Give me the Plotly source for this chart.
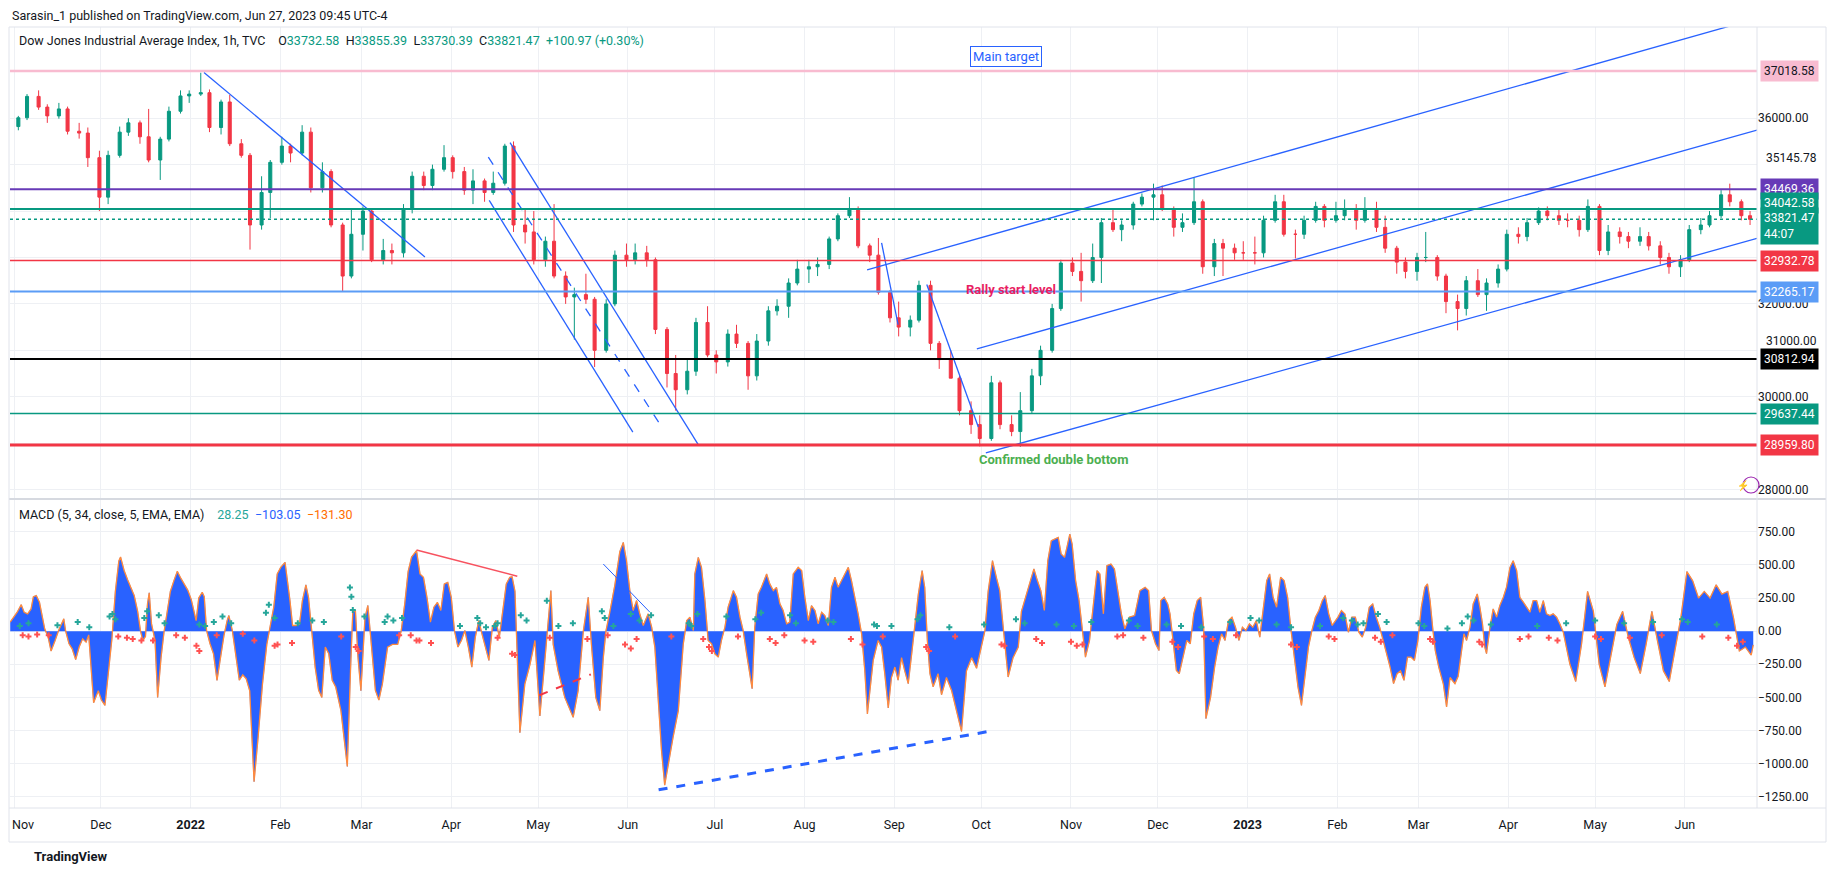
import pandas as pd
import plotly.graph_objects as go
from plotly.subplots import make_subplots

BASE = pd.Timestamp("2021-11-01")

# ---------------- price bars (two bars per week) ----------------
bar_open = [35820,36010,36470,36240,36050,36200,35720,35680,
            35150,34300,35200,35700,35900,35600,35100,35550,
            36150,36480,36520,36550,35800,36350,35450,35200,
            33700,34400,35050,35400,35250,35700,34500,34850,
            33700,32600,33500,34000,32950,33150,33100,34050,
            34750,34550,34900,35150,34850,34450,34650,34400,
            34600,35400,33700,33550,32950,33350,32600,32150,
            32200,32100,31000,32000,33050,32950,33100,32950,
            31450,30500,30150,30550,31600,30900,30750,31350,
            31150,30450,31200,31850,31950,32450,32750,32800,
            32850,33400,33900,34050,33250,33050,32250,31700,
            31500,31650,32400,31150,30800,30400,29700,29400,
            29100,30300,29400,29250,29700,30450,31000,31900,
            32880,32700,32500,33000,33750,33600,33700,34150,
            34300,34350,34050,33650,33750,34200,32800,33300,
            33200,33100,33100,33100,33800,34200,33500,33500,
            33800,34100,33800,33900,34050,33800,34050,33650,
            33200,32900,32700,33000,33000,32600,32050,31900,
            32500,32200,32450,32750,33500,33450,33750,34000,
            33900,33800,33800,33600,34100,33150,33550,33450,
            33350,33450,33250,33000,32800,32950,33600,33700,
            33900,34350,34200,33900]
bar_high = [36050,36520,36600,36300,36330,36250,35900,35800,
            35300,35300,35820,36000,35950,36200,35600,36250,
            36600,36600,36980,36620,36400,36500,35550,35250,
            34750,35100,35600,35450,35850,35800,35050,34900,
            33750,34050,34100,34050,33400,33300,34150,34850,
            34850,35000,35420,35200,34950,34900,34700,34850,
            35450,35500,34050,34000,33450,34150,32700,32350,
            32650,32150,32100,33150,33300,33300,33250,33000,
            31500,30900,30800,31700,31950,31000,31450,31550,
            31200,31350,31950,32100,32550,32950,32950,33000,
            33450,33950,34300,34100,33300,33420,32300,32050,
            31750,32500,32500,31200,31000,30450,29900,29600,
            30450,30350,29600,30100,30600,31100,32000,32950,
            33000,33100,33300,33850,34050,33800,34200,34380,
            34590,34550,34100,33950,34712,34250,33400,33400,
            33300,33350,33450,33900,34350,34350,33600,33900,
            34200,34150,34200,34250,34150,34300,34200,33900,
            33250,33000,33100,33550,33050,32650,32200,32600,
            32750,32550,32850,33600,33650,33850,34080,34100,
            34050,33950,33900,34250,34150,33700,33650,33550,
            33650,33550,33350,33100,33050,33700,33850,34000,
            34450,34590,34250,34000]
bar_low = [35740,35960,36180,35900,35990,35650,35560,34950,
           34000,34150,35150,35620,35450,35050,34670,35500,
           36100,36330,36480,35700,35650,35400,35150,33170,
           33600,33850,35000,35050,35200,34400,34400,33650,
           32272,32550,33150,32900,32850,32850,33000,33950,
           34450,34450,34850,34700,34350,34150,34200,34350,
           34550,33550,33300,32850,32800,32550,32000,31230,
           32000,30640,30950,31950,32800,32850,32800,31350,
           30200,29700,30050,30450,30850,30500,30650,31050,
           30150,30350,31100,31750,31700,32400,32450,32600,
           32750,33350,33850,33200,32900,32200,31600,31300,
           31300,31600,31000,30600,30400,29600,29200,28930,
           29050,29300,29150,28920,29650,30250,30950,31850,
           32600,32050,32450,32450,33550,33350,33600,34100,
           33800,34000,33450,33550,33700,32650,32600,32600,
           32950,32950,32850,33000,33750,33450,32980,33400,
           33750,33650,33750,33800,33600,33750,33550,33100,
           32650,32550,32500,32900,32500,31800,31430,31750,
           32150,31850,32350,32700,33300,33350,33700,33800,
           33700,33650,33450,33550,33050,33050,33300,33200,
           33250,33150,32850,32650,32580,32900,33500,33650,
           33850,34100,33800,33700]
bar_close = [36010,36470,36240,36050,36200,35720,35680,35150,
             34300,35200,35700,35900,35600,35100,35550,36150,
             36480,36520,36550,35800,36350,35450,35200,33700,
             34400,35050,35400,35250,35700,34500,34850,33700,
             32600,33500,34000,32950,33150,33100,34050,34750,
             34550,34900,35150,34850,34450,34650,34400,34600,
             35400,33700,33550,32950,33350,32600,32150,32200,
             32100,31000,32000,33050,32950,33100,32950,31450,
             30500,30150,30550,31600,30900,30750,31350,31150,
             30450,31200,31850,31950,32450,32750,32800,32850,
             33400,33900,34050,33250,33050,32250,31700,31500,
             31650,32400,31150,30800,30400,29700,29400,29100,
             30300,29400,29250,29700,30450,31000,31900,32880,
             32700,32500,33000,33750,33600,33700,34150,34300,
             34350,34050,33650,33750,34200,32800,33300,33200,
             33100,33100,33100,33800,34200,33500,33500,33800,
             34100,33800,33900,34050,33800,34050,33650,33200,
             32900,32700,33000,33000,32600,32050,31900,32500,
             32200,32450,32750,33500,33450,33750,34000,33900,
             33800,33800,33600,34100,33150,33550,33450,33350,
             33450,33250,33000,32800,32950,33600,33700,33900,
             34350,34200,33900,33821.47]
bar_tue = pd.date_range("2021-11-02 12:00", periods=86, freq="7D")
bar_fri = pd.date_range("2021-11-05 12:00", periods=86, freq="7D")
bar_time = [t for pair in zip(bar_tue, bar_fri) for t in pair]

# ---------------- horizontal levels ----------------
level_price = [37018.58, 34469.36, 34042.58, 33821.47, 32932.78, 32265.17, 30812.94, 29637.44, 28959.80]
level_text = ["37018.58", "34469.36", "34042.58", "33821.47<br>44:07", "32932.78", "32265.17", "30812.94", "29637.44", "28959.80"]
scale_extra_price = 35145.78

# ---------------- trend lines (days since 2021-11-01, price) ----------------
tl_jan_day, tl_jan_px = [65.6, 141.9], [36983, 33012]
tl_chup_day, tl_chup_px = [171.3, 236.4], [35475, 28959]
tl_chlo_day, tl_chlo_px = [164.1, 213.7], [34230, 29236]
tl_chmid_day, tl_chmid_px = [163.8, 223.8], [35162, 29336]
tl_aug_day, tl_aug_px = [299.6, 305.3], [33313, 31556]
tl_sep_day, tl_sep_px = [315.2, 333.0], [32416, 29350]
tl_top_day, tl_top_px = [294.6, 601.9], [32733, 38151]
tl_mid_day, tl_mid_px = [332.5, 601.9], [31030, 35744]
tl_low_day, tl_low_px = [335.6, 601.9], [28790, 33410]

# MACD pane drawings
md_red_day, md_red_val = [139.0, 173.8], [613, 415]
md_reddash_day, md_reddash_val = [181.4, 199.2], [-484, -326]
md_blue_day, md_blue_val = [203.5, 219.6], [507, 143]
md_bluedash_day, md_bluedash_val = [222.6, 336.6], [-1198, -757]

# ---------------- MACD (day, value) ----------------
macd_seg1 = [(-1.3,68),(-0.1,106),(1.1,143),(2.5,200),(3.5,143),(4.7,131),(5.9,168),(6.7,260),(7.7,269),(8.8,218),
    (10.0,68),(10.6,18),(11.8,-45),(12.8,-150),(14.2,-70),(15.4,5),(17.2,93),(17.8,5),(19.0,-95),(20.1,-133),
    (21.3,-215),(22.5,-120),(23.7,-58),(24.9,-83),(25.8,-28),(26.7,-321),(27.5,-540),(29.1,-450),(30.2,-520),(31.4,-560),
    (32.6,-300),(33.8,-60),(35.0,300),(36.2,530),(36.8,560),(38.0,460),(39.2,390),(40.4,330),(41.5,270),(42.7,150),
    (43.7,0),(44.5,-70),(45.4,-40),(46.1,206),(46.7,290),(47.5,55),(48.7,-70),(49.6,-500),(50.8,-196),(51.8,-8),
    (52.8,150),(54.0,300),(55.2,380),(56.4,452),(57.6,400),(58.8,350),(60.0,310),(61.2,240),(62.4,130),(62.9,80),
    (63.8,250),(65.0,294),(65.7,260),(66.5,5),(67.7,-95),(68.9,-171),(70.1,-371),(71.3,-196),(72.5,-33),(73.6,80),
    (74.2,118),(75.4,5),(76.6,-200),(77.8,-370),(79.0,-330),(80.2,-360),(81.4,-450),(82.9,-1136),(84.3,-800),(85.8,-400),
    (87.3,-100),(88.5,30),(89.7,181),(90.9,432),(92.1,482),(93.6,520),(94.5,382),(95.3,231),(96.2,43),(97.4,43),
    (98.6,55),(99.6,231),(100.8,350),(101.7,256),(102.8,5),(104.0,-271),(105.2,-447),(106.3,-500),(107.5,-120),(108.7,-171),
    (109.9,-371),(111.1,-422),(112.9,-600),(115.1,-1022),(116.2,-300),(117.0,150),(117.9,156),(118.8,-200),(119.8,-450),(121.2,100),
    (122.2,194),(123.4,-100),(124.8,-447),(126.0,-520),(127.2,-400),(129.0,-120),(130.7,-100),(132.5,-100),(133.7,0),(134.9,200),
    (136.1,450),(137.3,560),(138.5,600),(139.0,608),(140.2,432),(141.4,407),(142.6,256),(143.8,68),(145.0,181),(146.2,218),
    (147.4,156),(148.6,357),(149.8,369),(151.0,256),(152.1,5),(153.3,-120),(154.5,-70),(155.7,5),(156.9,-120),(158.1,-271),
    (159.3,-45),(160.5,80),(161.6,-20),(162.8,-120),(164.0,-221),(165.2,30),(166.4,80),(167.6,-45),(168.8,156),(170.0,357),
    (171.2,407),(172.0,410),(173.0,300),(173.6,-120),(174.2,-500),(174.7,-766)]
macd_seg2 = [(176.4,-400),(178.2,-250),(179.9,-70),(181.6,-640),(183.0,-300),(184.5,100),(185.4,306),(186.2,-100),(187.9,-300),(190.2,-500),
    (193.1,-650),(194.8,-450),(196.6,0),(198.3,256),(199.4,-100),(200.9,-500),(202.3,-600),(203.5,-200),(204.4,0),(205.8,150),
    (207.5,350),(209.2,600),(210.4,670),(211.5,532),(212.7,300),(213.8,156),(215.0,231),(216.1,131),(217.3,43),(219.0,131),
    (220.2,30),(221.3,-120),(222.5,-500),(223.6,-900),(224.7,-1162),(225.9,-1000),(227.6,-800),(229.4,-600),(231.1,-100),(232.3,80),
    (233.4,106),(234.6,5),(235.1,432),(236.3,557),(237.4,482),(238.6,231),(239.7,-70),(240.9,-95),(242.0,-171),(243.2,-196),
    (244.3,-70),(245.5,30),(246.6,181),(248.4,306),(249.5,256),(250.7,106),(251.8,5),(253.0,-171),(254.1,-321),(254.9,-434),
    (255.8,30),(257.0,281),(258.1,331),(259.9,432),(261.0,357),(262.2,306),(263.3,331),(264.5,206),(265.6,156),(266.8,55),
    (267.9,68),(269.1,432),(270.8,482),(272.0,457),(273.1,256),(274.3,80),(275.4,193),(276.6,156),(277.7,55),(278.9,143),
    (280.0,118),(281.2,43),(282.3,331),(283.5,407),(284.6,331),(285.8,382),(286.9,432),(288.1,482),(289.2,382),(290.4,256),
    (291.5,131),(292.7,-20),(293.8,-296),(294.7,-625),(296.7,-221),(298.4,-70),(299.6,-120),(300.7,-321),(301.9,-580),(303.0,-350),
    (304.2,-271),(305.3,-370),(306.5,-200),(307.6,-300),(308.8,-396),(310.0,-170),(311.1,30),(312.3,281),(313.6,457),(314.5,330),
    (315.4,-70),(316.3,-321),(317.4,-420),(319.1,-321),(320.3,-480),(322.0,-350),(323.8,-450),(325.5,-600),(327.2,-757),(328.9,-300),
    (330.7,-200),(332.4,-280),(334.1,-100),(335.3,5),(336.4,300),(337.9,532),(339.3,400),(340.4,306),(341.6,30),(343.3,-346),
    (345.0,-200),(346.8,-120),(347.9,150)]
macd_seg3 = [(351.0,382),(352.2,470),(353.4,382),(354.6,306),(355.8,156),(357.0,532),(358.2,683),(359.4,696),(360.6,708),(361.6,583),
    (362.8,557),(363.6,633),(364.6,733),(365.4,658),(366.6,382),(367.8,231),(368.8,30),(370.0,-196),(371.4,-70),(372.6,181),
    (374.0,457),(375.0,432),(376.2,131),(377.4,495),(378.8,507),(380.0,470),(381.2,306),(382.4,131),(383.6,18),(385.2,106),
    (387.0,118),(388.8,306),(390.6,331),(391.8,306),(392.8,5),(394.2,-95),(395.4,-146),(396.0,231),(397.2,256),(398.4,206),
    (399.2,131),(400.2,-70),(401.4,-296),(402.4,-321),(403.8,-196),(405.0,-70),(406.2,-95),(407.4,131),(408.6,231),(409.8,256),
    (410.8,30),(411.6,-660),(413.2,-500),(414.6,-271),(415.8,-120),(417.0,-20),(418.2,-70),(419.4,80),(420.6,106),(421.8,30),
    (423.0,-70),(424.2,30),(425.4,5),(426.6,55),(427.8,30),(429.0,80),(430.2,-45),(431.4,156),(432.6,382),(433.6,432),
    (434.8,256),(436.0,181),(437.4,407),(438.6,382),(439.8,256),(441.0,5),(442.2,-196),(443.4,-422),(444.6,-560),(445.8,-321),
    (447.0,-120),(448.2,5),(449.4,106),(450.6,156),(451.8,231),(452.8,269),(454.0,131),(455.2,43),(457.2,106),(458.4,156),
    (459.6,130),(460.8,-8),(462.0,106),(463.2,106),(464.4,-8),(465.6,-45),(466.8,30),(468.0,181),(469.2,206),(470.4,106),
    (471.6,30),(472.8,-70),(474.0,-171),(475.2,-271),(476.4,-396),(477.6,-321),(478.8,-300),(480.0,-371),(481.2,-196),(482.4,-196),
    (483.6,-221),(484.8,-70),(486.0,181),(487.2,331),(488.1,357),(489.0,231),(490.0,5),(490.8,-146),(492.0,-271)]
macd_seg4 = [(493.6,-400),(494.7,-572),(495.9,-350),(497.6,-396),(498.7,-340),(499.9,-145),(500.7,-20),(501.6,-70),(502.8,30),(503.9,206),
    (505.3,281),(506.2,181),(507.1,56),(507.9,-120),(508.5,-170),(509.7,30),(510.8,168),(512.0,106),(513.1,194),(514.3,256),
    (515.4,332),(516.6,482),(517.7,532),(518.9,457),(520.0,256),(521.2,219),(522.3,181),(523.5,143),(524.6,231),(525.8,231),
    (526.9,143),(528.1,231),(529.2,131),(530.4,118),(531.5,131),(532.7,106),(533.8,56),(535.0,-7),(537.3,-250),(539.3,-380),
    (541.3,-100),(543.4,300),(545.4,150),(547.4,-250),(549.4,-420),(551.4,-200),(553.5,50),(555.5,150),(557.5,-50),(559.5,-200),
    (561.6,-320),(563.6,-100),(565.6,150),(567.6,-80),(569.6,-300),(571.6,-380),(573.6,-150),(575.6,100),(577.7,450),(579.7,380),
    (581.7,250),(583.7,300),(585.7,250),(587.8,350),(589.8,280),(591.8,300),(593.8,100),(595.8,-150),(597.9,-120),(599.9,-180),
    (600.6,-103)]

hist_up = [(2,40),(5,60),(15,45),(22,70),(26,30),(33,110),(34,130),(35,90),(45,100),(46,150),(50,120),(52,60),(64,50),(66,40),
    (69,70),(72,110),(75,60),(87,140),(88,200),(90,100),(98,60),(103,80),(107,70),(116,330),(116.5,260),(117,160),(121,110),
    (128,70),(129,110),(131,80),(134,100),(154,40),(160,100),(161,60),(163,30),(166,40),(167,60),(175,120),(177,80),(184,230),
    (188,40),(193,60),(203,150),(204,100),(207,40),(213,130),(216,80),(220,120),(233,60),(234,40),(236,130),(246,110),(256,90),
    (258,140),(268,120),(270,60),(281,80),(283,70),(297,50),(298,40),(303,40),(312,90),(313,120),(323,30),(335,50),(346,90),
    (349,60),(360,50),(366,40),(372,70),(385,80),(388,40),(398,50),(403,40),(410,30),(420,70),(427,100),(430,80),(436,50),
    (441,30),(451,40),(459,100),(462,80),(464,50),(466,60),(471,130),(474,70),(485,60),(487,40),(495,20),(500,60),(502,110),
    (504,80),(510,50),(526,40),(536,60),(546,80),(556,60),(566,70),(576,90),(578,70),(588,50)]
hist_dn = [(3,-30),(5,-40),(8,-25),(12,-30),(36,-40),(39,-50),(41,-60),(44,-70),(48,-70),(56,-30),(59,-50),(63,-110),(64,-150),
    (70,-30),(79,-20),(83,-70),(90,-110),(91,-100),(96,-90),(113,-40),(118,-120),(119,-150),(133,-30),(137,-30),(139,-70),
    (140,-70),(144,-90),(167,-50),(172,-170),(173,-180),(185,-50),(198,-60),(205,-30),(211,-100),(213,-130),(215,-60),(227,-40),
    (238,-60),(240,-120),(241,-150),(250,-40),(261,-60),(263,-90),(266,-30),(273,-70),(276,-80),(289,-60),(293,-100),(300,-40),
    (315,-120),(316,-150),(325,-40),(341,-100),(342,-110),(353,-60),(355,-90),(365,-80),(367,-110),(369,-100),(381,-40),(383,-30),
    (390,-50),(400,-80),(402,-120),(411,-40),(414,-60),(422,-30),(441,-100),(443,-120),(454,-40),(456,-60),(470,-50),(472,-80),
    (476,-30),(489,-60),(490,-80),(506,-80),(507,-100),(520,-60),(523,-40),(530,-50),(533,-70),(546,-40),(548,-60),(558,-50),
    (569,-30),(583,-40),(592,-50),(595,-110),(597,-80)]

month_ticks = pd.date_range("2021-11-01", "2023-06-01", freq="MS")
month_text = ["", "Dec", "<b>2022</b>", "Feb", "Mar", "Apr", "May", "Jun", "Jul", "Aug", "Sep", "Oct",
              "Nov", "Dec", "<b>2023</b>", "Feb", "Mar", "Apr", "May", "Jun"]
first_month_label = "Nov"
price_ticks = [28000, 29000, 30000, 31000, 32000, 33000, 34000, 35000, 36000, 37000]
price_tick_text = ["28000.00", "", "30000.00", "", "32000.00", "", "", "", "36000.00", ""]
price_tick_31000 = 31000
macd_ticks = [-1250, -1000, -750, -500, -250, 0, 250, 500, 750]
macd_tick_text = ["\u22121250.00", "\u22121000.00", "\u2212750.00", "\u2212500.00", "\u2212250.00",
                  "0.00", "250.00", "500.00", "750.00"]

# ---------------- helpers (layout only) ----------------
def to_time(days):
    return [BASE + pd.Timedelta(days=float(d)) for d in days]

# the page body has an 8px margin, so the figure is drawn 8px in from the top-left
OFF = 8
W, H = 1835 - 2 * OFF, 874 - 2 * OFF
PL, PR, PT, PB = 10, 1757, 27, 808          # plot area in screenshot pixels
def px(x):
    return (x - PL) / (PR - PL)
def py(y):
    return (PB - y) / (PB - PT)

UP, DN = "#089981", "#f23645"
BLUE = "#2962ff"
GRID = "#eef0f4"
TXT = "#131722"
FONT = "Roboto, Open Sans, sans-serif"

fig = make_subplots(rows=2, cols=1, shared_xaxes=True, vertical_spacing=0)

fig.add_trace(go.Candlestick(
    x=bar_time, open=bar_open, high=bar_high, low=bar_low, close=bar_close,
    increasing=dict(line=dict(color=UP, width=1), fillcolor=UP),
    decreasing=dict(line=dict(color=DN, width=1), fillcolor=DN),
    whiskerwidth=0, hoverinfo="skip"), row=1, col=1)

def tline(days, vals, row, color=BLUE, width=1.3, dash="solid"):
    fig.add_trace(go.Scatter(x=to_time(days), y=vals, mode="lines",
                             line=dict(color=color, width=width, dash=dash),
                             hoverinfo="skip"), row=row, col=1)

tline(tl_jan_day, tl_jan_px, 1)
tline(tl_chup_day, tl_chup_px, 1)
tline(tl_chlo_day, tl_chlo_px, 1)
tline(tl_chmid_day, tl_chmid_px, 1, dash="dash")
tline(tl_aug_day, tl_aug_px, 1)
tline(tl_sep_day, tl_sep_px, 1)
tline(tl_top_day, tl_top_px, 1)
tline(tl_mid_day, tl_mid_px, 1)
tline(tl_low_day, tl_low_px, 1)

# MACD
macd_all = macd_seg1 + macd_seg2 + macd_seg3 + macd_seg4
macd_day = [p[0] for p in macd_all]
macd_val = [p[1] for p in macd_all]
fig.add_trace(go.Scatter(x=to_time(macd_day), y=macd_val, mode="lines", fill="tozeroy",
                         fillcolor=BLUE, line=dict(color=BLUE, width=0.5), hoverinfo="skip"), row=2, col=1)
fig.add_trace(go.Scatter(x=to_time(macd_day), y=macd_val, mode="lines",
                         line=dict(color="#ff8a3d", width=1.3), hoverinfo="skip"), row=2, col=1)
fig.add_trace(go.Scatter(x=to_time([p[0] for p in hist_up]), y=[p[1] for p in hist_up], mode="markers",
                         marker=dict(symbol="cross", size=5, color="#26a69a"), hoverinfo="skip"), row=2, col=1)
fig.add_trace(go.Scatter(x=to_time([p[0] for p in hist_dn]), y=[p[1] for p in hist_dn], mode="markers",
                         marker=dict(symbol="cross", size=5, color="#ff5252"), hoverinfo="skip"), row=2, col=1)
tline(md_red_day, md_red_val, 2, color="#f7525f", width=1.5)
tline(md_reddash_day, md_reddash_val, 2, color="#f23645", width=2, dash="dash")
tline(md_blue_day, md_blue_val, 2, color=BLUE, width=1)
tline(md_bluedash_day, md_bluedash_val, 2, color=BLUE, width=3, dash="dash")

# horizontal levels
level_color = ["#f8bbd0", "#673ab7", UP, UP, DN, "#5b9cf6", "#000000", UP, DN]
level_width = [2.5, 2, 2, 1.5, 1.5, 2, 2, 1.5, 3]
level_dash = ["solid", "solid", "solid", "dot", "solid", "solid", "solid", "solid", "solid"]
label_bg = ["#f8bbd0", "#673ab7", UP, UP, DN, "#5b9cf6", "#000000", UP, DN]
label_fg = [TXT, "white", "white", "white", "white", "white", "white", "white", "white"]
label_shift = [0, 0, 6, -7, 0, 0, 0, 0, 0]

shapes = []
for v, c, w, d in zip(level_price, level_color, level_width, level_dash):
    shapes.append(dict(type="line", xref="x domain", x0=0, x1=1, yref="y", y0=v, y1=v,
                       line=dict(color=c, width=w, dash=d), layer="above"))
shapes.append(dict(type="line", xref="paper", yref="paper", x0=px(9), x1=px(1826), y0=py(499), y1=py(499),
                   line=dict(color="#d6d9e0", width=2)))
shapes.append(dict(type="line", xref="paper", yref="paper", x0=1, x1=1, y0=0, y1=1,
                   line=dict(color="#e0e3eb", width=1)))
shapes.append(dict(type="line", xref="paper", yref="paper", x0=px(9), x1=px(1826), y0=0, y1=0,
                   line=dict(color="#e0e3eb", width=1)))
shapes.append(dict(type="rect", xref="paper", yref="paper", x0=px(9), x1=px(1826), y0=py(27), y1=py(842),
                   line=dict(color="#e0e3eb", width=1), fillcolor="rgba(0,0,0,0)"))
shapes.append(dict(type="circle", xref="paper", yref="paper", x0=px(1743), x1=px(1759), y0=py(477), y1=py(493),
                   line=dict(color="#9c27b0", width=1.2)))

annotations = []
for v, t, bg, fg, sh in zip(level_price, level_text, label_bg, label_fg, label_shift):
    annotations.append(dict(xref="paper", x=px(1760), xanchor="left", yref="y", y=v, yshift=sh,
                            text=t, showarrow=False, bgcolor=bg, borderpad=3,
                            font=dict(family=FONT, size=12, color=fg), align="left"))
annotations.append(dict(xref="paper", x=px(1764), xanchor="left", yref="y", y=scale_extra_price,
                        text=f"{scale_extra_price:.2f}", showarrow=False,
                        font=dict(family=FONT, size=12, color=TXT)))
annotations.append(dict(xref="paper", x=px(1764), xanchor="left", yref="y", y=price_tick_31000, yshift=9,
                        text=f"{price_tick_31000:.2f}", showarrow=False,
                        font=dict(family=FONT, size=12, color=TXT)))
annotations += [
    dict(xref="paper", yref="paper", x=px(10), y=py(15), xanchor="left", yanchor="middle", showarrow=False,
         text="Sarasin_1 published on TradingView.com, Jun 27, 2023 09:45 UTC-4",
         font=dict(family=FONT, size=12.5, color=TXT)),
    dict(xref="paper", yref="paper", x=px(17), y=py(41), xanchor="left", yanchor="middle", showarrow=False,
         text=("Dow Jones Industrial Average Index, 1h, TVC\u2003O<span style='color:#089981'>33732.58</span>"
               "\u2002H<span style='color:#089981'>33855.39</span>\u2002L<span style='color:#089981'>33730.39</span>"
               "\u2002C<span style='color:#089981'>33821.47</span>\u2002<span style='color:#089981'>+100.97 (+0.30%)</span>"),
         font=dict(family=FONT, size=12.5, color=TXT)),
    dict(xref="paper", yref="paper", x=px(17), y=py(515), xanchor="left", yanchor="middle", showarrow=False,
         text=("MACD (5, 34, close, 5, EMA, EMA)\u2003<span style='color:#26a69a'>28.25</span>"
               "\u2002<span style='color:#2962ff'>\u2212103.05</span>\u2002<span style='color:#ff6d00'>\u2212131.30</span>"),
         font=dict(family=FONT, size=12.5, color=TXT)),
    dict(xref="x", yref="y", x=BASE + pd.Timedelta(days=342.4), y=37336, showarrow=False,
         text="Main target", bgcolor="white", bordercolor=BLUE, borderwidth=1, borderpad=2,
         font=dict(family=FONT, size=13, color=BLUE)),
    dict(xref="x", yref="y", x=BASE + pd.Timedelta(days=328.0), y=32305, xanchor="left", showarrow=False,
         text="<b>Rally start level</b>", font=dict(family=FONT, size=13, color="#e91e63")),
    dict(xref="x", yref="y", x=BASE + pd.Timedelta(days=332.5), y=28657, xanchor="left", showarrow=False,
         text="<b>Confirmed double bottom</b>", font=dict(family=FONT, size=13, color="#4caf50")),
    dict(xref="paper", yref="paper", x=px(1751), y=py(485), showarrow=False, text="\u26a1",
         font=dict(size=10, color="#9c27b0")),
    dict(xref="paper", yref="paper", x=px(10), y=py(824), xanchor="left", yanchor="middle", showarrow=False,
         text=first_month_label, font=dict(family=FONT, size=12.5, color=TXT)),
    dict(xref="paper", yref="paper", x=px(32), y=py(856), xanchor="left", yanchor="middle", showarrow=False,
         text="<b>TradingView</b>", font=dict(family=FONT, size=13, color=TXT)),
]

x_range = [BASE - pd.Timedelta(days=1.38), BASE + pd.Timedelta(days=601.9)]
fig.update_xaxes(range=x_range, tickvals=month_ticks, ticktext=month_text, showgrid=True, gridcolor=GRID,
                 gridwidth=1, zeroline=False, showline=False, ticks="", rangeslider_visible=False,
                 ticklabelstandoff=7, tickfont=dict(family=FONT, size=12.5, color=TXT))
fig.update_xaxes(showticklabels=False, row=1, col=1)

fig.update_layout(
    width=W, height=H,
    margin=dict(l=PL - OFF, r=W - (PR - OFF), t=PT - OFF, b=H - (PB - OFF)),
    paper_bgcolor="white", plot_bgcolor="white", showlegend=False, hovermode=False,
    boxgap=0.5,
    font=dict(family=FONT, size=12, color=TXT),
    yaxis=dict(domain=[py(499) + 0.001, 1], range=[27814, 37965], side="right", tickvals=price_ticks,
               ticktext=price_tick_text, showgrid=True, gridcolor=GRID, zeroline=False, ticks="",
               tickfont=dict(family=FONT, size=12, color=TXT)),
    yaxis2=dict(domain=[0, py(499) - 0.001], range=[-1335, 992], side="right", tickvals=macd_ticks,
                ticktext=macd_tick_text, showgrid=True, gridcolor=GRID, zeroline=False, ticks="",
                tickfont=dict(family=FONT, size=12, color=TXT)),
    shapes=shapes, annotations=annotations,
)

fig.write_html("out.html")
